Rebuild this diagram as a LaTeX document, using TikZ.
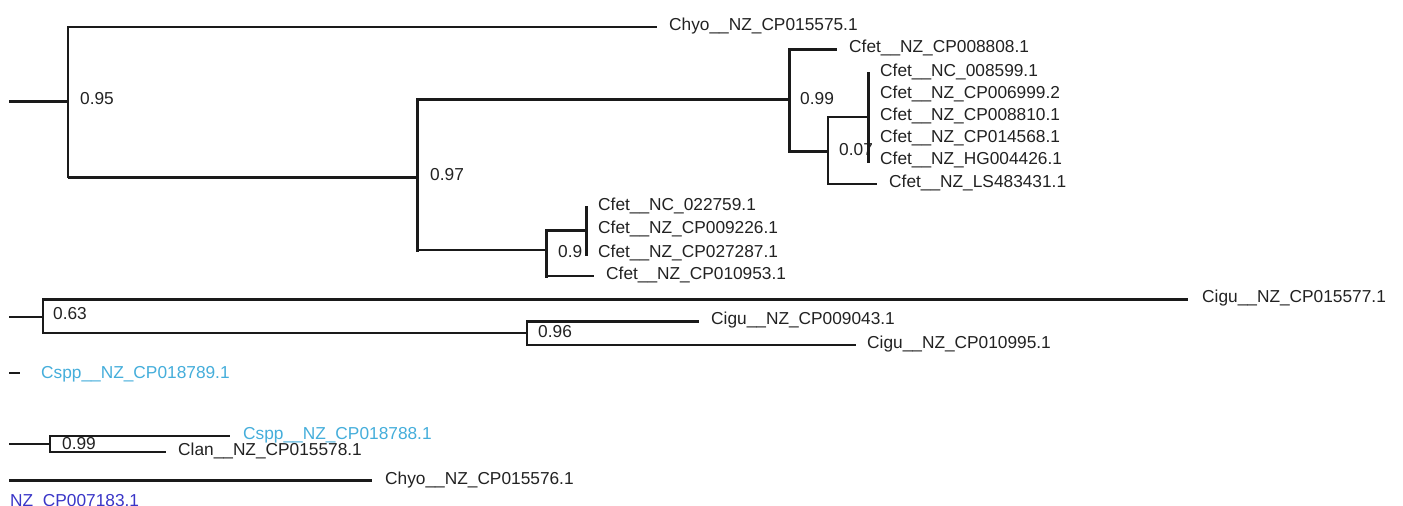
\documentclass[tikz,border=0pt]{standalone}
\usepackage{fontspec}
\setmainfont{Liberation Sans}
\definecolor{ln}{HTML}{1A1A1A}
\definecolor{txt}{HTML}{222222}
\definecolor{cyanlab}{HTML}{45AEDB}
\definecolor{bluelab}{HTML}{3A36C8}
\begin{document}
\begin{tikzpicture}[x=1pt,y=-1pt,
  thinl/.style={line width=1.3pt, draw=ln},
  thickl/.style={line width=3pt, draw=ln},
  bar/.style={line cap=rect},
  leaf/.style={anchor=west, inner xsep=12pt, inner ysep=0pt, text height=6pt, text depth=0pt,
    font=\fontsize{17.3}{20}\selectfont, text=txt},
  supp/.style={anchor=base west, inner sep=0pt, font=\fontsize{17.3}{20}\selectfont, text=txt}]
\useasboundingbox (0,0) rectangle (1403,506);
\fill[white] (0,0) rectangle (1403,506);

% ---------------- clade 1 ----------------
\coordinate (r1) at (9,101);
\coordinate (n1) at (68,101);
\coordinate (n2) at (417,177);
\coordinate (n3) at (789,99);
\coordinate (n4) at (546,250);
\coordinate (n5) at (828,151);
\coordinate (n6) at (868,117);
\coordinate (n7) at (586,230);

% support values
\node[supp] (s1) at (80,104) {0.95};
\node[supp] (s2) at (430,180) {0.97};
\node[supp] (s3) at (800,104) {0.99};
\node[supp] (s4) at (839,155) {0.07};
\node[supp] (s5) at (558,257) {0.9};
\node[supp] (s6) at (53,319) {0.63};
\node[supp] (s7) at (538,337) {0.96};
\node[supp] (s8) at (62,449) {0.99};

\node[leaf] (chyo575) at (657,27) {Chyo\_\_NZ\_CP015575.1};
\node[leaf] (cf808) at (837,49) {Cfet\_\_NZ\_CP008808.1};
\node[leaf] (cf599) at (868,73) {Cfet\_\_NC\_008599.1};
\node[leaf] (cf999) at (868,95) {Cfet\_\_NZ\_CP006999.2};
\node[leaf] (cf810) at (868,117) {Cfet\_\_NZ\_CP008810.1};
\node[leaf] (cf568) at (868,139) {Cfet\_\_NZ\_CP014568.1};
\node[leaf] (cf426) at (868,161) {Cfet\_\_NZ\_HG004426.1};
\node[leaf] (cf431) at (877,184) {Cfet\_\_NZ\_LS483431.1};
\node[leaf] (cf759) at (586,207) {Cfet\_\_NC\_022759.1};
\node[leaf] (cf226) at (586,230) {Cfet\_\_NZ\_CP009226.1};
\node[leaf] (cf287) at (586,254) {Cfet\_\_NZ\_CP027287.1};
\node[leaf] (cf953) at (594,276) {Cfet\_\_NZ\_CP010953.1};

\draw[thickl] (r1) -- (n1);
\draw[thinl,bar] (n1 |- chyo575.west) -- (n1 |- n2);
\draw[thinl] (n1 |- chyo575.west) -- (chyo575.west);
\draw[thickl] (n1 |- n2) -- (n2);
\draw[thickl,bar] (n2 |- n3) -- (n2 |- n4);
\draw[thickl] (n2 |- n3) -- (n3);
\draw[thinl] (n2 |- n4) -- (n4);
\draw[thickl,bar] (n3 |- cf808.west) -- (n3 |- n5);
\draw[thickl] (n3 |- cf808.west) -- (cf808.west);
\draw[thickl] (n3 |- n5) -- (n5);
\draw[thinl,bar] (n5 |- n6) -- (n5 |- cf431.west);
\draw[thinl] (n5 |- n6) -- (n6);
\draw[thinl] (n5 |- cf431.west) -- (cf431.west);
\draw[thickl,bar] (n6 |- cf599.west) -- (n6 |- cf426.west);
\draw[thickl,bar] (n4 |- n7) -- (n4 |- cf953.west);
\draw[thickl] (n4 |- n7) -- (n7);
\draw[thinl] (n4 |- cf953.west) -- (cf953.west);
\draw[thickl,bar] (n7 |- cf759.west) -- (n7 |- cf287.west);

% ---------------- clade 2 ----------------
\coordinate (r2) at (9,317);
\coordinate (n8) at (43,317);
\coordinate (n9) at (527,333);
\node[leaf,inner xsep=14pt] (ci577) at (1188,299) {Cigu\_\_NZ\_CP015577.1};
\node[leaf] (ci043) at (699,321) {Cigu\_\_NZ\_CP009043.1};
\node[leaf,inner xsep=11pt] (ci995) at (856,345) {Cigu\_\_NZ\_CP010995.1};

\draw[thinl] (r2) -- (n8);
\draw[thinl,bar] (n8 |- ci577.west) -- (n8 |- n9);
\draw[thickl] (n8 |- ci577.west) -- (ci577.west);
\draw[thinl] (n8 |- n9) -- (n9);
\draw[thinl,bar] (n9 |- ci043.west) -- (n9 |- ci995.west);
\draw[thickl] (n9 |- ci043.west) -- (ci043.west);
\draw[thinl] (n9 |- ci995.west) -- (ci995.west);

% ---------------- single leaf ----------------
\coordinate (r4) at (9,373);
\node[leaf,text=cyanlab,inner xsep=21pt] (cs789) at (20,375) {Cspp\_\_NZ\_CP018789.1};
\draw[thinl] (r4) -- (r4 -| cs789.west);

% ---------------- clade 3 ----------------
\coordinate (r3) at (9,444);
\coordinate (n10) at (50,444);
\node[leaf,text=cyanlab,inner xsep=13pt] (cs788) at (230,436) {Cspp\_\_NZ\_CP018788.1};
\node[leaf] (cl578) at (166,452) {Clan\_\_NZ\_CP015578.1};

\draw[thinl] (r3) -- (n10);
\draw[thinl,bar] (n10 |- cs788.west) -- (n10 |- cl578.west);
\draw[thinl] (n10 |- cs788.west) -- (cs788.west);
\draw[thinl] (n10 |- cl578.west) -- (cl578.west);

% ---------------- Chyo 576 ----------------
\coordinate (r5) at (9,480);
\node[leaf,inner xsep=13pt] (chyo576) at (372,481) {Chyo\_\_NZ\_CP015576.1};
\draw[thickl] (r5) -- (r5 -| chyo576.west);

\node[leaf,text=bluelab,inner xsep=0pt] (nz183) at (10,503) {NZ\_CP007183.1};
\end{tikzpicture}
\end{document}
